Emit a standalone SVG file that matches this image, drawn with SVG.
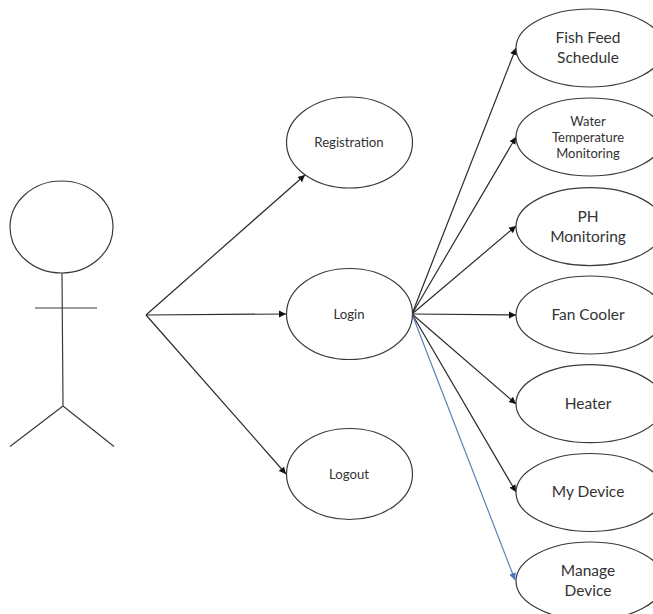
<svg xmlns="http://www.w3.org/2000/svg" width="653" height="614" viewBox="0 0 653 614">
<style>
.s{fill:#fff;stroke:#3a3a3a;stroke-width:1.2}
.l{fill:none;stroke:#3a3a3a;stroke-width:1.2}
.c{fill:none;stroke:#2a2a2a;stroke-width:1.2}
.b{fill:none;stroke:#5b82b4;stroke-width:1.2}
text{font-family:"Lato","Liberation Sans",sans-serif;fill:#333;text-anchor:middle}
.lg{font-size:15.5px}
.md{font-size:13.2px}
.sm{font-size:13px}
</style>
<defs>
<marker id="a" markerUnits="userSpaceOnUse" markerWidth="8" markerHeight="8" refX="7" refY="4" orient="auto"><path d="M0,0.5L7,4L0,7.500z" fill="#111"/></marker>
<marker id="ab" markerUnits="userSpaceOnUse" markerWidth="8" markerHeight="8" refX="7" refY="4" orient="auto"><path d="M0,0.5L7,4L0,7.500z" fill="#4472c4"/></marker>
</defs>
<rect width="653" height="614" fill="#fff"/>
<g id="actor">
<ellipse class="s" cx="61.5" cy="227" rx="51.5" ry="46"/>
<path class="l" d="M62,273L63,406M35,308H97M63,406L10,446.5M63,406L114,446.5"/>
</g>
<g id="connectors">
<path class="c" marker-end="url(#a)" d="M146,315L305,175"/>
<path class="c" marker-end="url(#a)" d="M146,315L286,314"/>
<path class="c" marker-end="url(#a)" d="M146,315L286,474"/>
<path class="c" marker-end="url(#a)" d="M412,314L516,48"/>
<path class="c" marker-end="url(#a)" d="M412,314L516,137"/>
<path class="c" marker-end="url(#a)" d="M412,314L516,226"/>
<path class="c" marker-end="url(#a)" d="M412,314L516,315"/>
<path class="c" marker-end="url(#a)" d="M412,314L516,404"/>
<path class="c" marker-end="url(#a)" d="M412,314L516,492"/>
<path class="b" marker-end="url(#ab)" d="M412,314L515,580"/>
</g>
<g id="registration"><ellipse class="s" cx="349.5" cy="142.5" rx="63" ry="45.5"/><text class="md" x="349" y="147.300">Registration</text></g>
<g id="login"><ellipse class="s" cx="349.5" cy="314" rx="63" ry="45.500"/><text class="md" x="349" y="319">Login</text></g>
<g id="logout"><ellipse class="s" cx="349.5" cy="474" rx="63" ry="45.500"/><text class="md" x="349" y="479">Logout</text></g>
<g id="fish-feed"><ellipse class="s" cx="590" cy="48" rx="74" ry="39"/><text class="lg" x="588" y="43">Fish Feed</text><text class="lg" x="588" y="63">Schedule</text></g>
<g id="water-temp"><ellipse class="s" cx="590" cy="137" rx="74" ry="39"/><text class="sm" x="588" y="126">Water</text><text class="sm" x="588" y="142">Temperature</text><text class="sm" x="588" y="158">Monitoring</text></g>
<g id="ph"><ellipse class="s" cx="590" cy="226.700" rx="74" ry="39"/><text class="lg" x="588" y="222">PH</text><text class="lg" x="588" y="242">Monitoring</text></g>
<g id="fan-cooler"><ellipse class="s" cx="590" cy="315" rx="74" ry="39"/><text class="lg" x="588" y="320">Fan Cooler</text></g>
<g id="heater"><ellipse class="s" cx="590" cy="403.700" rx="74" ry="39"/><text class="lg" x="588" y="408.500">Heater</text></g>
<g id="my-device"><ellipse class="s" cx="590" cy="492.500" rx="74" ry="39"/><text class="lg" x="588" y="497">My Device</text></g>
<g id="manage-device"><ellipse class="s" cx="590" cy="581" rx="74" ry="39"/><text class="lg" x="588" y="576">Manage</text><text class="lg" x="588" y="596">Device</text></g>
</svg>
